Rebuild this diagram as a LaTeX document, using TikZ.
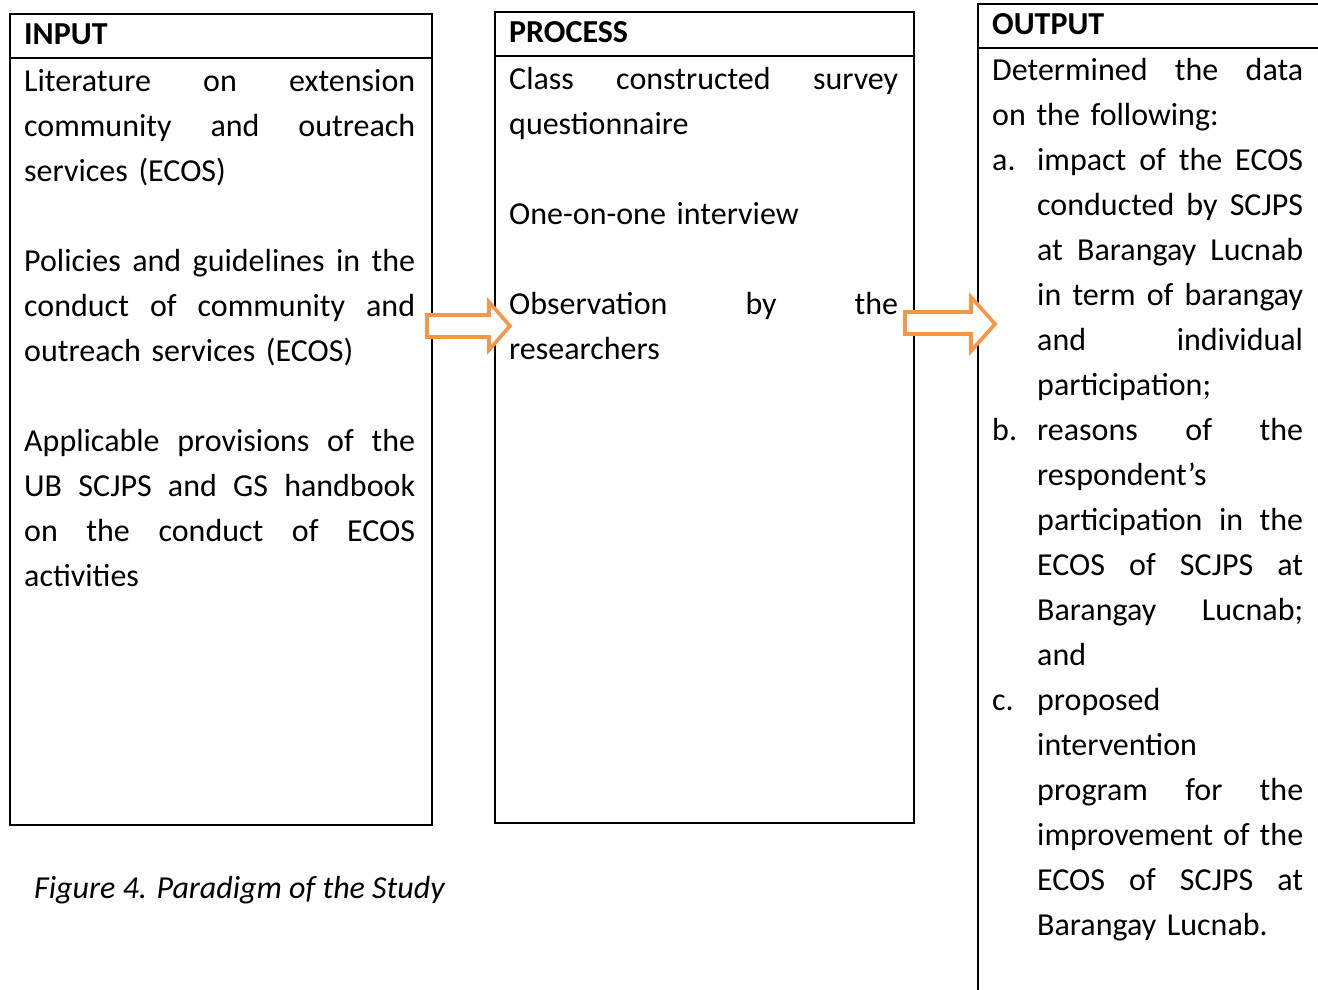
\documentclass[tikz,border=0pt]{standalone}
\usepackage{fontspec}
\setmainfont{Carlito}

% body text: 12pt-equivalent with 1.15 line spacing
\newcommand{\bodyfont}{\fontsize{32pt}{45pt}\selectfont}
\newdimen\colw
% justified line (font's own stretchable interword glue)
\newcommand{\jl}[1]{{\spaceskip=0pt\xspaceskip=0pt\makebox[\colw][s]{#1}}}
% list items: label + hanging text (justified / left)
\newcommand{\itmj}[2]{{\spaceskip=0pt\xspaceskip=0pt\makebox[45pt][l]{#1}\makebox[\dimexpr\colw-45pt\relax][s]{#2}}}
\newcommand{\itml}[2]{\makebox[45pt][l]{#1}#2}
\newcommand{\contj}[1]{{\spaceskip=0pt\xspaceskip=0pt\hspace*{45pt}\makebox[\dimexpr\colw-45pt\relax][s]{#1}}}
\newcommand{\contl}[1]{\hspace*{45pt}#1}
\newcommand{\firststrut}{\rule{0pt}{30pt}}

\begin{document}
\begin{tikzpicture}[x=1pt,y=-1pt,
  panel/.style={draw=black, line width=2.2pt, inner sep=0pt, anchor=north west, fill=none},
  rule/.style={draw=black, line width=2.2pt},
  head/.style={inner sep=0pt, anchor=base west, font=\bodyfont\bfseries},
  body/.style={inner sep=0pt, anchor=north west, align=left, font=\bodyfont},
  hollowarrow/.style={draw={rgb,255:red,247;green,150;blue,70}, fill=white, line width=3.6pt, line join=miter}
]
\useasboundingbox (0,0) rectangle (1318,990);
\clip (0,0) rectangle (1318,990);

% the three panels
\node[panel, minimum width=422pt, minimum height=811pt] (input) at (9,13) {};
\node[panel, minimum width=419pt, minimum height=811pt] (process) at (494,11) {};
\node[panel, minimum width=400pt, minimum height=1050pt] (output) at (977,3) {};

% header separators
\draw[rule] ([yshift=-45pt]input.north west) -- ([yshift=-45pt]input.north east);
\draw[rule] ([yshift=-45pt]process.north west) -- ([yshift=-45pt]process.north east);
\draw[rule] ([yshift=-45pt]output.north west) -- ([yshift=-45pt]output.north east);

% headers
\node[head] (inhead) at (24,45) {INPUT};
\node[head] (prochead) at (509,43) {PROCESS};
\node[head] (outhead) at (992,35) {OUTPUT};

% INPUT contents
\node[body, text width=391pt] (inbody) at (24,61) {\colw=391pt\relax
\firststrut\jl{Literature on extension}\\
\jl{community and outreach}\\
services (ECOS)\\
\mbox{}\\
\jl{Policies and guidelines in the}\\
\jl{conduct of community and}\\
outreach services (ECOS)\\
\mbox{}\\
\jl{Applicable provisions of the}\\
\jl{UB SCJPS and GS handbook}\\
\jl{on the conduct of ECOS}\\
activities};

% PROCESS contents
\node[body, text width=389pt] (procbody) at (509,59) {\colw=389pt\relax
\firststrut\jl{Class constructed survey}\\
questionnaire\\
\mbox{}\\
One-on-one interview\\
\mbox{}\\
\jl{Observation by the}\\
researchers};

% OUTPUT contents
\node[body, text width=311pt] (outbody) at (992,50) {\colw=311pt\relax
\firststrut\jl{Determined the data}\\
on the following:\\
\itmj{a.}{impact of the ECOS}\\
\contj{conducted by SCJPS}\\
\contj{at Barangay Lucnab}\\
\contj{in term of barangay}\\
\contj{and individual}\\
\contl{participation;}\\
\itmj{b.}{reasons of the}\\
\contl{respondent’s}\\
\contj{participation in the}\\
\contj{ECOS of SCJPS at}\\
\contj{Barangay Lucnab;}\\
\contl{and}\\
\itml{c.}{proposed}\\
\contl{intervention}\\
\contj{program for the}\\
\contj{improvement of the}\\
\contj{ECOS of SCJPS at}\\
\contl{Barangay Lucnab.}};

% caption
\node[inner sep=0pt, anchor=base west, font=\bodyfont\itshape] (caption) at (34,898) {Figure 4. Paradigm of the Study};

% hollow block arrows between the panels
\draw[hollowarrow] (427,315) -- (489,315) -- (489,302) -- (510,326) -- (489,350) -- (489,337) -- (427,337) -- cycle;
\draw[hollowarrow] (905,312) -- (971,312) -- (971,297) -- (995,324) -- (971,351) -- (971,334) -- (905,334) -- cycle;
\end{tikzpicture}
\end{document}
